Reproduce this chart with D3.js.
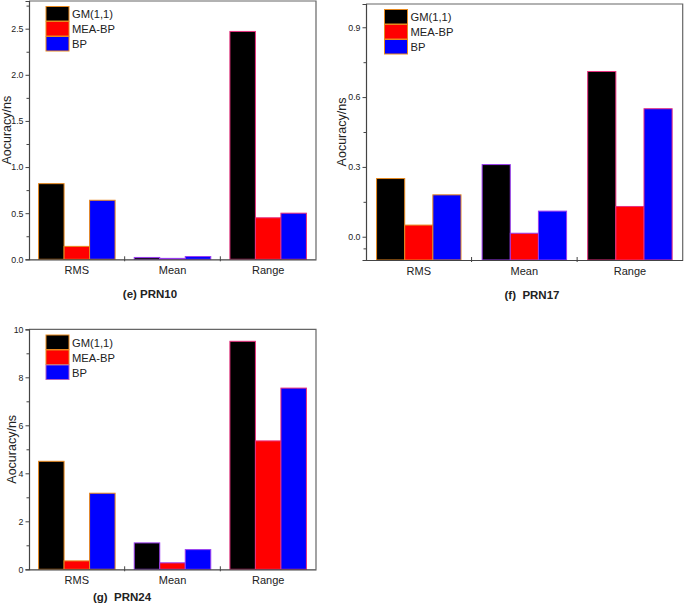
<!DOCTYPE html>
<html>
<head>
<meta charset="utf-8">
<script src="https://cdn.jsdelivr.net/npm/d3@7"></script>
<style>
  body { margin: 0; background: #fff; }
  svg { display: block; }
  text { font-family: "Liberation Sans", Arial, sans-serif; fill: #222; }
</style>
</head>
<body>
<svg id="chart" width="685" height="604"></svg>
<script>
// ---- data ----
const categories = ["RMS", "Mean", "Range"];
const seriesNames = ["GM(1,1)", "MEA-BP", "BP"];
const seriesColors = ["#000000", "#ff0000", "#0000ff"];
const categoryOutline = ["#e8891e", "#9a3cf0", "#e8307e"];

const prn10 = { GM: [0.82, 0.02, 2.47], MEA: [0.14, 0.01, 0.45], BP: [0.64, 0.03, 0.50] };
const prn17 = { GM: [0.25, 0.31, 0.71], MEA: [0.05, 0.015, 0.13], BP: [0.18, 0.11, 0.55] };
const prn24 = { GM: [4.5, 1.1, 9.5], MEA: [0.35, 0.27, 5.35], BP: [3.17, 0.82, 7.55] };

const ticksE = [0, 0.5, 1.0, 1.5, 2.0, 2.5];
const ticksF = [0.0, 0.3, 0.6, 0.9];
const ticksG = [0, 2, 4, 6, 8, 10];

const svg = d3.select("#chart");

function drawPanel(cfg) {
  const { left, right, top, bottom, domain, ticks, minor, fmt, data, title, titleX, titleY, labelX, legendX, legendY, legendOutlines } = cfg;
  const g = svg.append("g");
  const x = d3.scaleBand().domain(categories).range([left, right]).paddingInner(0.2).paddingOuter(0.1);
  const xs = d3.scaleBand().domain(seriesNames).range([0, x.bandwidth()]).padding(0);
  const y = d3.scaleLinear().domain(domain).range([bottom, top]);
  const vals = [data.GM, data.MEA, data.BP];

  // bars
  categories.forEach((c, ci) => {
    seriesNames.forEach((s, si) => {
      const v = vals[si][ci];
      g.append("rect")
        .attr("x", x(c) + xs(s))
        .attr("y", y(v))
        .attr("width", xs.bandwidth())
        .attr("height", Math.max(0, y(domain[0]) - y(v)))
        .attr("fill", seriesColors[si])
        .attr("stroke", categoryOutline[ci])
        .attr("stroke-width", 1);
    });
  });

  // frame top/right
  g.append("path")
    .attr("d", `M${left},${top}H${right}V${bottom}`)
    .attr("fill", "none").attr("stroke", "#666").attr("stroke-width", 1.2);

  // y axis major
  const ya = g.append("g").attr("transform", `translate(${left},0)`)
    .call(d3.axisLeft(y).tickValues(ticks).tickFormat(fmt).tickSize(3.5).tickPadding(2));
  ya.select(".domain").attr("stroke", "#444").attr("stroke-width", 1.2);
  ya.selectAll(".tick line").attr("stroke", "#444");
  ya.selectAll("text").attr("font-size", 8.8).style("fill", "#222");
  // y minor
  const ym = g.append("g").attr("transform", `translate(${left},0)`)
    .call(d3.axisLeft(y).tickValues(minor).tickFormat("").tickSize(2.5));
  ym.select(".domain").remove();
  ym.selectAll(".tick line").attr("stroke", "#444");

  // x axis
  const xa = g.append("g").attr("transform", `translate(0,${bottom})`)
    .call(d3.axisBottom(x).tickSize(0).tickPadding(7));
  xa.select(".domain").attr("stroke", "#444").attr("stroke-width", 1.2);
  xa.selectAll("text").attr("font-size", 11).style("fill", "#222");
  // separator ticks between categories
  for (let i = 1; i < categories.length; i++) {
    const bx = (x(categories[i - 1]) + x.bandwidth() + x(categories[i])) / 2;
    g.append("line").attr("x1", bx).attr("x2", bx).attr("y1", bottom - 3).attr("y2", bottom + 2)
      .attr("stroke", "#444");
  }

  // y label
  g.append("text")
    .attr("transform", `translate(${labelX},${(top + bottom) / 2}) rotate(-90)`)
    .attr("text-anchor", "middle").attr("dominant-baseline", "central")
    .attr("font-size", 12.5).text("Aocuracy/ns");

  // title
  g.append("text").attr("x", titleX).attr("y", titleY)
    .attr("text-anchor", "middle").attr("dominant-baseline", "central")
    .attr("font-size", 11.5).attr("font-weight", "bold")
    .style("white-space", "pre").attr("xml:space", "preserve")
    .text(title);

  // legend
  seriesNames.forEach((s, i) => {
    const ly = legendY + i * 15;
    g.append("rect").attr("x", legendX).attr("y", ly).attr("width", 23).attr("height", 14.5)
      .attr("fill", seriesColors[i]).attr("stroke", legendOutlines[i]).attr("stroke-width", 1);
    g.append("text").attr("x", legendX + 26).attr("y", ly + 7.5)
      .attr("dominant-baseline", "central").attr("font-size", 11.2).text(s);
  });
}

drawPanel({
  left: 29, right: 316, top: 1, bottom: 259.3, domain: [0, 2.8],
  ticks: ticksE, minor: [0.25, 0.75, 1.25, 1.75, 2.25, 2.75], fmt: d3.format(".1f"),
  data: prn10, title: "(e) PRN10", titleX: 150, titleY: 294, labelX: 6.5,
  legendX: 46, legendY: 6.5, legendOutlines: ["#e8891e", "#e8891e", "#e8891e"]
});

drawPanel({
  left: 366, right: 682.7, top: 4, bottom: 260, domain: [-0.1, 1.0],
  ticks: ticksF, minor: [-0.05, 0.15, 0.45, 0.75], fmt: d3.format(".1f"),
  data: prn17, title: "(f)  PRN17", titleX: 532, titleY: 295, labelX: 342,
  legendX: 384.5, legendY: 9.5, legendOutlines: ["#e8891e", "#e8891e", "#e8891e"]
});

drawPanel({
  left: 29, right: 316, top: 329.3, bottom: 569.3, domain: [0, 10],
  ticks: ticksG, minor: [1, 3, 5, 7, 9], fmt: d3.format("d"),
  data: prn24, title: "(g)  PRN24", titleX: 122, titleY: 597, labelX: 11.5,
  legendX: 46, legendY: 335, legendOutlines: ["#e8891e", "#e8891e", "#b060c0"]
});
</script>
</body>
</html>
